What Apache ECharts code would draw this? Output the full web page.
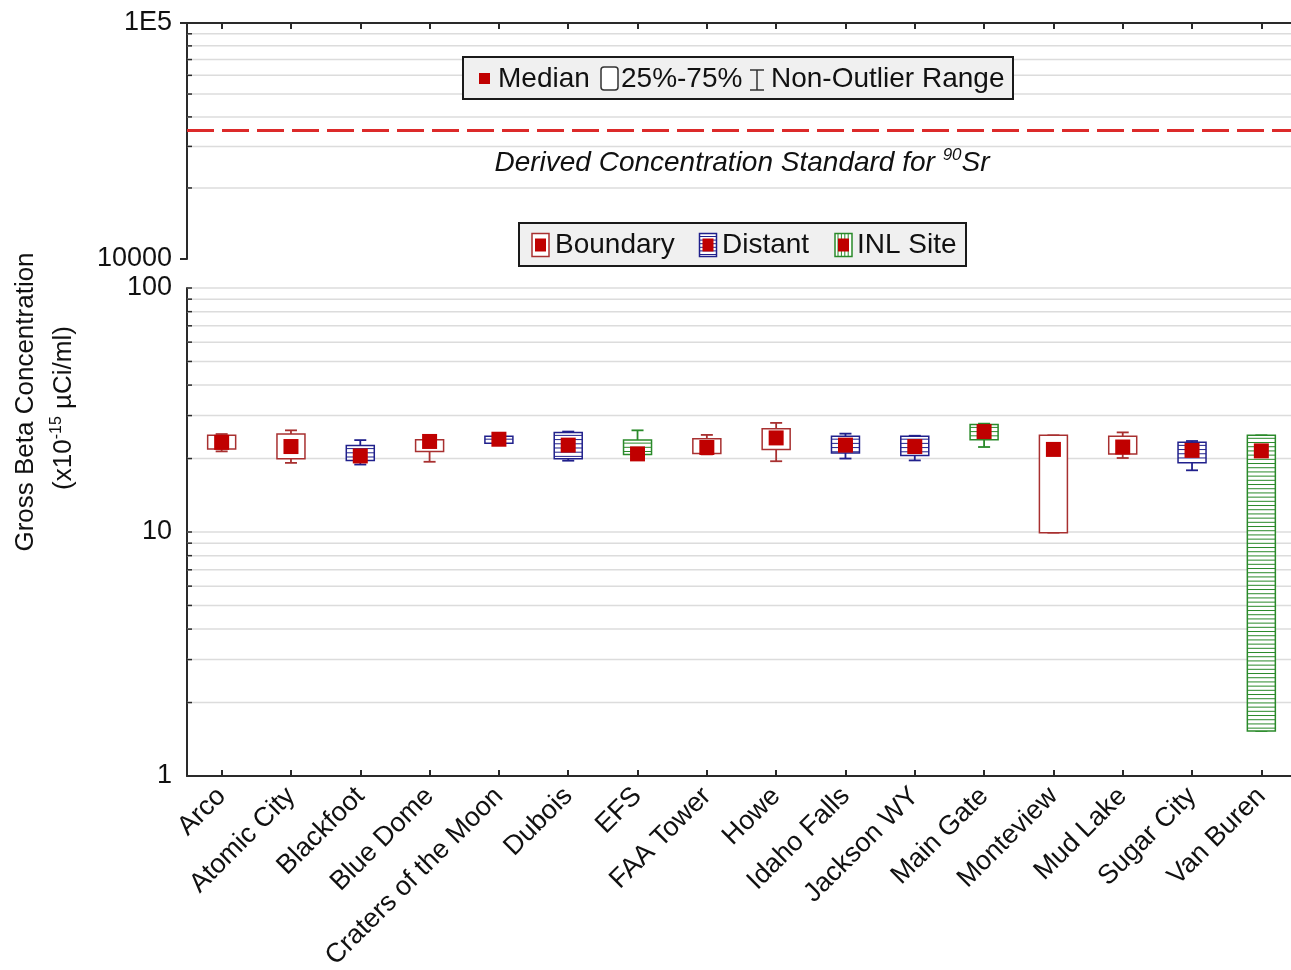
<!DOCTYPE html>
<html>
<head>
<meta charset="utf-8">
<script src="https://cdn.jsdelivr.net/npm/echarts@6/dist/echarts.min.js"></script>
<style>
  html, body { margin: 0; padding: 0; background: #fff; }
  #main { width: 1291px; height: 970px; }
</style>
</head>
<body>
<div id="main"></div>
<script>
// stations and their group
var categories = ['Arco', 'Atomic City', 'Blackfoot', 'Blue Dome', 'Craters of the Moon', 'Dubois', 'EFS',
  'FAA Tower', 'Howe', 'Idaho Falls', 'Jackson WY', 'Main Gate', 'Monteview', 'Mud Lake', 'Sugar City', 'Van Buren'];
var groups = ['Boundary', 'Boundary', 'Distant', 'Boundary', 'Distant', 'Distant', 'INL Site',
  'Boundary', 'Boundary', 'Distant', 'Distant', 'INL Site', 'Boundary', 'Boundary', 'Distant', 'INL Site'];

// non-outlier range, 25%-75% box, median (x10^-15 uCi/ml)
var whiskerLow  = [21.4, 19.2, 18.9, 19.4, 22.8, 19.6, 20.6, 20.8, 19.5, 20.0, 19.65, 22.3, 9.94, 20.1, 17.9, 1.53];
var boxLow      = [21.9, 19.95, 19.65, 21.4, 23.1, 19.95, 20.8, 21.0, 21.8, 21.1, 20.6, 23.9, 9.94, 20.9, 19.2, 1.53];
var medians     = [23.3, 22.4, 20.5, 23.5, 24.0, 22.7, 20.9, 22.2, 24.3, 22.7, 22.4, 25.8, 21.8, 22.3, 21.6, 21.5];
var boxHigh     = [24.9, 25.2, 22.6, 23.9, 24.7, 25.6, 23.8, 24.1, 26.5, 24.7, 24.7, 27.6, 24.9, 24.7, 23.3, 24.9];
var whiskerHigh = [25.2, 26.1, 23.8, 24.2, 25.0, 25.8, 26.1, 25.0, 28.0, 25.3, 24.8, 27.8, 24.9, 25.6, 23.6, 24.9];

// derived concentration standard for 90Sr
var dcsValue = 35000;

// minor ticks / grid lines of the two log panels
var upperGridVals = [20000, 30000, 40000, 50000, 60000, 70000, 80000, 90000];
var lowerGridVals = [2, 3, 4, 5, 6, 7, 8, 9, 10, 20, 30, 40, 50, 60, 70, 80, 90, 100];

var FONT = '"Liberation Sans", Arial, sans-serif';
var TXT = '#111';
var axisColor = '#2a2a2a';
var medianColor = '#c00000';
var groupColor = { 'Boundary': '#a83030', 'Distant': '#20208c', 'INL Site': '#2a8a2a' };

var myChart = echarts.init(document.getElementById('main'));

function gridRender(params, api) {
  var cs = params.coordSys;
  var y = api.coord([0, api.value(1)])[1];
  return {
    type: 'group',
    children: [
      { type: 'line', shape: { x1: cs.x, y1: y, x2: cs.x + cs.width, y2: y }, style: { stroke: '#dcdcdc', lineWidth: 1.5 } },
      { type: 'line', shape: { x1: cs.x, y1: y, x2: cs.x + 5, y2: y }, style: { stroke: axisColor, lineWidth: 1.5 } }
    ]
  };
}

function boxRender(params, api) {
  var i = api.value(0);
  var c = groupColor[groups[i]];
  var pLow = api.coord([i, api.value(1)]);
  var pQ1 = api.coord([i, api.value(2)]);
  var pQ3 = api.coord([i, api.value(4)]);
  var pHigh = api.coord([i, api.value(5)]);
  var x = pLow[0], bw = 28, cap = 6;
  var ch = [
    { type: 'line', shape: { x1: x, y1: pHigh[1], x2: x, y2: pQ3[1] }, style: { stroke: c, lineWidth: 1.8 } },
    { type: 'line', shape: { x1: x, y1: pQ1[1], x2: x, y2: pLow[1] }, style: { stroke: c, lineWidth: 1.8 } },
    { type: 'line', shape: { x1: x - cap, y1: pHigh[1], x2: x + cap, y2: pHigh[1] }, style: { stroke: c, lineWidth: 1.8 } },
    { type: 'line', shape: { x1: x - cap, y1: pLow[1], x2: x + cap, y2: pLow[1] }, style: { stroke: c, lineWidth: 1.8 } },
    { type: 'rect', shape: { x: x - bw / 2, y: pQ3[1], width: bw, height: pQ1[1] - pQ3[1] }, style: { fill: '#fff', stroke: c, lineWidth: 1.5 } }
  ];
  if (groups[i] !== 'Boundary') {
    for (var y = pQ3[1] + 3; y < pQ1[1] - 1; y += 4.2) {
      ch.push({ type: 'line', shape: { x1: x - bw / 2, y1: y, x2: x + bw / 2, y2: y }, style: { stroke: c, lineWidth: 1 } });
    }
  }
  return { type: 'group', children: ch };
}

var boxData = categories.map(function (n, i) {
  return [i, whiskerLow[i], boxLow[i], medians[i], boxHigh[i], whiskerHigh[i]];
});
var medianData = medians.map(function (m, i) { return [i, m]; });

// legend icons
function groupIcon(x, y, c, stripes) {
  var els = [{ type: 'rect', shape: { x: x, y: y, width: 17, height: 23 }, style: { fill: '#fff', stroke: c, lineWidth: 1.5 } }];
  if (stripes === 'h') {
    for (var yy = y + 3; yy < y + 22; yy += 3.6) {
      els.push({ type: 'line', shape: { x1: x, y1: yy, x2: x + 17, y2: yy }, style: { stroke: c, lineWidth: 1 } });
    }
  } else if (stripes === 'v') {
    for (var xx = x + 3; xx < x + 16; xx += 3.4) {
      els.push({ type: 'line', shape: { x1: xx, y1: y, x2: xx, y2: y + 23 }, style: { stroke: c, lineWidth: 1 } });
    }
  }
  els.push({ type: 'rect', shape: { x: x + 3, y: y + 5, width: 11, height: 13 }, style: { fill: medianColor } });
  return els;
}
function legText(x, y, t) {
  return { type: 'text', x: x, y: y, style: { text: t, fontSize: 28, fontFamily: FONT, fill: TXT, verticalAlign: 'middle' } };
}

var graphics = [
  { type: 'rect', shape: { x: 463, y: 57, width: 550, height: 42 }, style: { fill: '#f0f0f0', stroke: '#1a1a1a', lineWidth: 2 } },
  { type: 'rect', shape: { x: 479, y: 73, width: 11, height: 11 }, style: { fill: medianColor } },
  legText(498, 79, 'Median'),
  { type: 'rect', shape: { x: 601, y: 67, width: 17, height: 23, r: 3 }, style: { fill: '#fff', stroke: '#333', lineWidth: 1.5 } },
  legText(621, 79, '25%-75%'),
  { type: 'line', shape: { x1: 757, y1: 70, x2: 757, y2: 90 }, style: { stroke: '#333', lineWidth: 1.5 } },
  { type: 'line', shape: { x1: 750, y1: 70, x2: 764, y2: 70 }, style: { stroke: '#333', lineWidth: 1.5 } },
  { type: 'line', shape: { x1: 750, y1: 90, x2: 764, y2: 90 }, style: { stroke: '#333', lineWidth: 1.5 } },
  legText(771, 79, 'Non-Outlier Range'),

  { type: 'rect', shape: { x: 519, y: 223, width: 447, height: 43 }, style: { fill: '#f0f0f0', stroke: '#1a1a1a', lineWidth: 2 } },
  legText(555, 245, 'Boundary'),
  legText(722, 245, 'Distant'),
  legText(857, 245, 'INL Site'),

  {
    type: 'text', x: 742, y: 163,
    style: {
      text: '{a|Derived Concentration Standard for }{s|90}{a|Sr}',
      align: 'center', verticalAlign: 'middle',
      rich: {
        a: { fontSize: 28, fontStyle: 'italic', fontFamily: FONT, fill: TXT, lineHeight: 32 },
        s: { fontSize: 17, fontStyle: 'italic', fontFamily: FONT, fill: TXT, verticalAlign: 'top', lineHeight: 32 }
      }
    }
  },
  {
    type: 'text', x: 26, y: 402, rotation: Math.PI / 2,
    style: { text: 'Gross Beta Concentration', fontSize: 26, fontFamily: FONT, fill: TXT, align: 'center', verticalAlign: 'middle' }
  },
  {
    type: 'text', x: 64, y: 408, rotation: Math.PI / 2,
    style: {
      text: '{b|(x10}{s|-15}{b| µCi/ml)}',
      align: 'center', verticalAlign: 'middle',
      rich: {
        b: { fontSize: 26, fontFamily: FONT, fill: TXT, lineHeight: 30 },
        s: { fontSize: 16, fontFamily: FONT, fill: TXT, verticalAlign: 'top', lineHeight: 30 }
      }
    }
  }
];
graphics = graphics.concat(groupIcon(532, 233.5, groupColor['Boundary'], null));
graphics = graphics.concat(groupIcon(699.5, 233.5, groupColor['Distant'], 'h'));
graphics = graphics.concat(groupIcon(835, 233.5, groupColor['INL Site'], 'v'));
// keep the legend boxes above the grid lines
graphics.forEach(function (g) { g.z = 100; });

var axisLineStyle = { color: axisColor, width: 2 };

var option = {
  animation: false,
  backgroundColor: '#fff',
  textStyle: { fontFamily: FONT },
  grid: [
    { left: 187, top: 23, width: 1109, height: 236, containLabel: false, outerBoundsMode: 'none' },
    { left: 187, top: 288, width: 1109, height: 488, containLabel: false, outerBoundsMode: 'none' }
  ],
  xAxis: [
    {
      gridIndex: 0, type: 'category', data: categories, position: 'top',
      axisLine: { show: true, onZero: false, lineStyle: axisLineStyle },
      axisTick: { show: true, inside: true, length: 6, alignWithLabel: true, interval: 0, lineStyle: axisLineStyle },
      axisLabel: { show: false },
      splitLine: { show: false }
    },
    {
      gridIndex: 1, type: 'category', data: categories, position: 'bottom',
      axisLine: { show: true, onZero: false, lineStyle: axisLineStyle },
      axisTick: { show: true, inside: true, length: 6, alignWithLabel: true, interval: 0, lineStyle: axisLineStyle },
      axisLabel: { show: true, interval: 0, rotate: 45, fontSize: 27, fontFamily: FONT, color: TXT, margin: 16 },
      splitLine: { show: false }
    }
  ],
  yAxis: [
    {
      gridIndex: 0, type: 'log', logBase: 10, min: 10000, max: 100000,
      axisLine: { show: true, lineStyle: axisLineStyle },
      axisTick: { show: true, inside: false, length: 7, lineStyle: axisLineStyle },
      axisLabel: {
        fontSize: 27, fontFamily: FONT, color: TXT, margin: 15, showMinLabel: true, showMaxLabel: true,
        formatter: function (v) { return v > 50000 ? '1E5' : '10000'; }
      },
      splitLine: { show: false }
    },
    {
      gridIndex: 1, type: 'log', logBase: 10, min: 1, max: 100,
      axisLine: { show: true, lineStyle: axisLineStyle },
      axisTick: { show: false },
      axisLabel: {
        fontSize: 27, fontFamily: FONT, color: TXT, margin: 15, showMinLabel: true, showMaxLabel: true,
        formatter: function (v) { return String(Math.round(v)); }
      },
      splitLine: { show: false }
    }
  ],
  graphic: graphics,
  series: [
    {
      type: 'custom', xAxisIndex: 0, yAxisIndex: 0, z: 1, silent: true,
      renderItem: gridRender,
      data: upperGridVals.map(function (v) { return [0, v]; })
    },
    {
      type: 'line', xAxisIndex: 0, yAxisIndex: 0, data: [], silent: true,
      markLine: {
        silent: true, symbol: ['none', 'none'], label: { show: false },
        lineStyle: { color: '#dc2a2a', width: 3, type: [27, 8] },
        data: [{ yAxis: dcsValue }]
      }
    },
    {
      type: 'custom', xAxisIndex: 1, yAxisIndex: 1, z: 1, silent: true,
      renderItem: gridRender,
      data: lowerGridVals.map(function (v) { return [0, v]; })
    },
    {
      type: 'custom', xAxisIndex: 1, yAxisIndex: 1, z: 3, silent: true,
      renderItem: boxRender,
      data: boxData
    },
    {
      type: 'scatter', xAxisIndex: 1, yAxisIndex: 1, z: 5, silent: true,
      symbol: 'rect', symbolSize: 15,
      itemStyle: { color: medianColor, opacity: 1 },
      data: medianData
    }
  ]
};
myChart.setOption(option, true);
</script>
</body>
</html>
